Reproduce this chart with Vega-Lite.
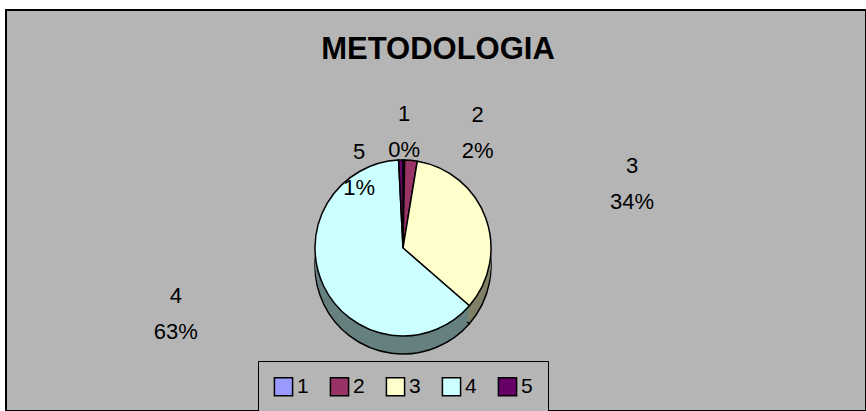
{
  "$schema": "https://vega.github.io/schema/vega-lite/v6.json",
  "autosize": {"type": "none"},
  "padding": {"left": 6, "top": 10, "right": 0, "bottom": 0},
  "width": 860,
  "height": 401,
  "background": "#ffffff",
  "view": {"fill": "#b5b5b5", "stroke": "#000000", "strokeWidth": 2},
  "config": {"font": "Liberation Sans"},
  "title": {
    "text": "METODOLOGIA",
    "font": "Liberation Sans",
    "fontSize": 31,
    "fontWeight": "bold",
    "color": "#000000",
    "anchor": "middle",
    "frame": "group",
    "baseline": "alphabetic",
    "offset": -80,
    "dx": 2
  },
  "data": {
    "values": [
      {"cat": "1", "value": 0.3, "pct": "0%"},
      {"cat": "2", "value": 2.3, "pct": "2%"},
      {"cat": "3", "value": 33.8, "pct": "34%"},
      {"cat": "4", "value": 62.8, "pct": "63%"},
      {"cat": "5", "value": 0.8, "pct": "1%"}
    ]
  },
  "transform": [
    {"stack": "value", "groupby": [], "sort": [{"field": "cat", "order": "ascending"}], "as": ["t0", "t1"]},
    {"calculate": "(datum.t0 + datum.t1) / 2", "as": "tm"},
    {"calculate": "datum.cat + '\\n' + datum.pct", "as": "label"}
  ],
  "layer": [
    {
      "mark": {"type": "arc", "x": 397, "y": 256, "outerRadius": 88, "stroke": "#000000", "strokeWidth": 1.5},
      "encoding": {
        "theta": {"field": "t0", "type": "quantitative", "scale": {"domain": [0, 100]}},
        "theta2": {"field": "t1"},
        "fill": {"field": "pct", "type": "nominal", "scale": {"domain": ["0%", "2%", "34%", "63%", "1%"], "range": ["#4d4d80", "#4d1a33", "#808066", "#668080", "#330033"]}, "legend": null}
      }
    },
    {
      "mark": {"type": "arc", "x": 397, "y": 252, "outerRadius": 88},
      "encoding": {
        "theta": {"field": "t0", "type": "quantitative", "scale": {"domain": [0, 100]}},
        "theta2": {"field": "t1"},
        "fill": {"field": "pct", "type": "nominal", "legend": null}
      }
    },
    {
      "mark": {"type": "arc", "x": 397, "y": 248, "outerRadius": 88},
      "encoding": {
        "theta": {"field": "t0", "type": "quantitative", "scale": {"domain": [0, 100]}},
        "theta2": {"field": "t1"},
        "fill": {"field": "pct", "type": "nominal", "legend": null}
      }
    },
    {
      "mark": {"type": "arc", "x": 397, "y": 244, "outerRadius": 88},
      "encoding": {
        "theta": {"field": "t0", "type": "quantitative", "scale": {"domain": [0, 100]}},
        "theta2": {"field": "t1"},
        "fill": {"field": "pct", "type": "nominal", "legend": null}
      }
    },
    {
      "mark": {"type": "arc", "x": 397, "y": 241, "outerRadius": 88},
      "encoding": {
        "theta": {"field": "t0", "type": "quantitative", "scale": {"domain": [0, 100]}},
        "theta2": {"field": "t1"},
        "fill": {"field": "pct", "type": "nominal", "legend": null}
      }
    },
    {
      "mark": {"type": "arc", "x": 397, "y": 238, "outerRadius": 88, "stroke": "#000000", "strokeWidth": 1.5},
      "encoding": {
        "theta": {"field": "t0", "type": "quantitative", "scale": {"domain": [0, 100]}},
        "theta2": {"field": "t1"},
        "color": {
          "field": "cat",
          "type": "nominal",
          "scale": {"domain": ["1", "2", "3", "4", "5"], "range": ["#9999ff", "#993366", "#ffffcc", "#ccffff", "#660066"]},
          "legend": {
            "title": null,
            "orient": "none",
            "legendX": 252,
            "legendY": 351,
            "direction": "horizontal",
            "columns": 5,
            "symbolType": "square",
            "symbolSize": 330,
            "symbolStrokeColor": "#000000",
            "symbolStrokeWidth": 1.5,
            "labelFont": "Liberation Sans",
            "labelFontSize": 21,
            "labelColor": "#000000",
            "labelOffset": 3,
            "columnPadding": 18,
            "padding": 15,
            "fillColor": "#b5b5b5",
            "strokeColor": "#000000",
            "cornerRadius": 0
          }
        }
      }
    },
    {
      "transform": [{"filter": "datum.cat == '1'"}],
      "mark": {"type": "text", "x": 397, "y": 238, "radius": 118, "dx": 0, "dy": -16, "font": "Liberation Sans", "fontSize": 22, "lineBreak": "\n", "lineHeight": 36, "baseline": "middle", "align": "center", "color": "#000000"},
      "encoding": {
        "theta": {"field": "tm", "type": "quantitative", "stack": null, "scale": {"domain": [0, 100]}},
        "text": {"field": "label"}
      }
    },
    {
      "transform": [{"filter": "datum.cat == '2'"}],
      "mark": {"type": "text", "x": 397, "y": 238, "radius": 118, "dx": 64, "dy": -15, "font": "Liberation Sans", "fontSize": 22, "lineBreak": "\n", "lineHeight": 36, "baseline": "middle", "align": "center", "color": "#000000"},
      "encoding": {
        "theta": {"field": "tm", "type": "quantitative", "stack": null, "scale": {"domain": [0, 100]}},
        "text": {"field": "label"}
      }
    },
    {
      "transform": [{"filter": "datum.cat == '3'"}],
      "mark": {"type": "text", "x": 397, "y": 238, "radius": 118, "dx": 118, "dy": -42, "font": "Liberation Sans", "fontSize": 22, "lineBreak": "\n", "lineHeight": 36, "baseline": "middle", "align": "center", "color": "#000000"},
      "encoding": {
        "theta": {"field": "tm", "type": "quantitative", "stack": null, "scale": {"domain": [0, 100]}},
        "text": {"field": "label"}
      }
    },
    {
      "transform": [{"filter": "datum.cat == '4'"}],
      "mark": {"type": "text", "x": 397, "y": 238, "radius": 118, "dx": -121, "dy": -4, "font": "Liberation Sans", "fontSize": 22, "lineBreak": "\n", "lineHeight": 36, "baseline": "middle", "align": "center", "color": "#000000"},
      "encoding": {
        "theta": {"field": "tm", "type": "quantitative", "stack": null, "scale": {"domain": [0, 100]}},
        "text": {"field": "label"}
      }
    },
    {
      "transform": [{"filter": "datum.cat == '5'"}],
      "mark": {"type": "text", "x": 397, "y": 238, "radius": 118, "dx": -41, "dy": 22, "font": "Liberation Sans", "fontSize": 22, "lineBreak": "\n", "lineHeight": 36, "baseline": "middle", "align": "center", "color": "#000000"},
      "encoding": {
        "theta": {"field": "tm", "type": "quantitative", "stack": null, "scale": {"domain": [0, 100]}},
        "text": {"field": "label"}
      }
    }
  ]
}
